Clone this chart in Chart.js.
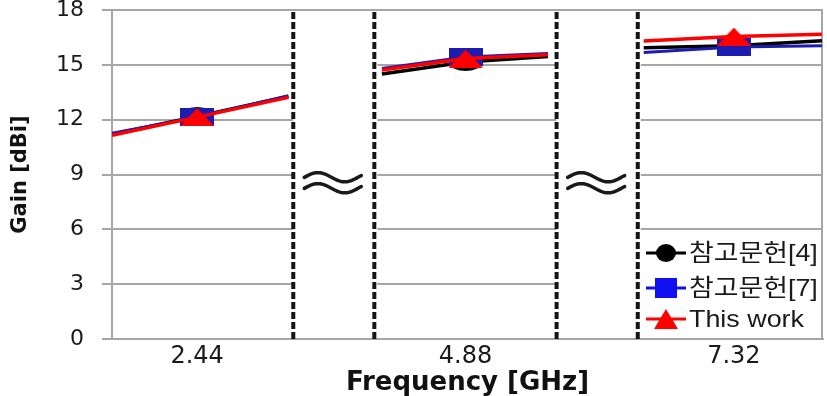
<!DOCTYPE html>
<html><head><meta charset="utf-8">
<script src="https://cdn.jsdelivr.net/npm/chart.js@4.4.0/dist/chart.umd.min.js"></script>
<style>html,body{margin:0;padding:0;background:#fff;overflow:hidden}#wrap{width:827px;height:396px;position:relative}</style>
</head><body><div id="wrap"><canvas id="c" width="827" height="396"></canvas></div>
<script>
// ---- data ----
const seriesNames = ['참고문헌[4]', '참고문헌[7]', 'This work'];
const tickFreqs = [2.44, 4.88, 7.32];          // labelled frequencies (GHz)
const freqRange = [1.666, 8.13];               // visible frequency span of the broken axis
const breakFreqs = [3.314, 4.051, 5.708, 6.446]; // axis-break boundaries
// frequency of each line point (null = break between segments)
const freqs    = [1.666, 2.44, 3.27, null, 4.12, 4.88, 5.63, null, 6.50, 7.32, 8.12];
const ref4     = [11.20, 12.18, 13.27, null, 14.50, 15.15, 15.45, null, 15.93, 16.05, 16.32];
const ref7     = [11.26, 12.14, 13.31, null, 14.80, 15.43, 15.62, null, 15.68, 15.98, 16.04];
const thisWork = [11.15, 12.14, 13.22, null, 14.72, 15.34, 15.55, null, 16.30, 16.55, 16.67];
const yTicks = [0, 3, 6, 9, 12, 15, 18];

const lineColors = ['#000000', '#1c1cb0', '#ff0000'];
const legendColors = ['#000000', '#1010f0', '#ff0000'];

function makeMarker(shape, w, h, color) {
  const c = document.createElement('canvas'); c.width = w; c.height = h;
  const g = c.getContext('2d'); g.fillStyle = color; g.beginPath();
  if (shape === 'ellipse') g.ellipse(w / 2, h / 2, w / 2, h / 2, 0, 0, Math.PI * 2);
  else if (shape === 'rect') g.rect(0, 0, w, h);
  else { g.moveTo(w / 2, 0); g.lineTo(w, h); g.lineTo(0, h); g.closePath(); }
  g.fill(); return c;
}
const chartMarkers = [makeMarker('ellipse', 34, 18, lineColors[0]), makeMarker('rect', 34, 18, lineColors[1]), makeMarker('tri', 34, 18, lineColors[2])];
const legendMarkers = [makeMarker('ellipse', 20, 18, legendColors[0]), makeMarker('rect', 22, 20, legendColors[1]), makeMarker('tri', 24, 20, legendColors[2])];

function build(vals) {
  return freqs.map((f, i) => ({ x: f === null ? (freqs[i - 1] + freqs[i + 1]) / 2 : f, y: vals[i] }));
}
const allSeries = [ref4, ref7, thisWork];
const datasets = allSeries.map((vals, k) => ({
  label: seriesNames[k],
  data: build(vals),
  borderColor: lineColors[k],
  backgroundColor: lineColors[k],
  borderWidth: k === 1 ? 3 : 3.5,
  pointStyle: chartMarkers[k],
  pointRadius: ctx => (ctx.raw && tickFreqs.includes(ctx.raw.x)) ? 9 : 0,
  spanGaps: false,
  tension: 0,
  order: 2 - k
}));

// draws one wavy stroke of the axis-break symbol
function wave(ctx, cx, cy, w, amp) {
  ctx.beginPath();
  for (let i = 0; i <= 40; i++) {
    const t = i / 40;
    const px = cx - w / 2 + w * t;
    const py = cy - amp * Math.sin(2 * Math.PI * (t - 0.005) / 0.94);
    if (i === 0) ctx.moveTo(px, py); else ctx.lineTo(px, py);
  }
  ctx.stroke();
}

const decor = {
  id: 'decor',
  beforeDatasetsDraw(chart) {
    const { ctx, chartArea: a, scales: { x, y } } = chart;
    ctx.save();
    // blank gaps of the broken axis
    ctx.fillStyle = '#ffffff';
    for (let i = 0; i < breakFreqs.length; i += 2) {
      const l = x.getPixelForValue(breakFreqs[i]), r = x.getPixelForValue(breakFreqs[i + 1]);
      ctx.fillRect(l, a.top + 2, r - l + 3, a.bottom - a.top - 3);
    }
    // right border
    ctx.strokeStyle = '#a6a6a6'; ctx.lineWidth = 2;
    ctx.beginPath(); ctx.moveTo(a.right - 1, a.top); ctx.lineTo(a.right - 1, a.bottom); ctx.stroke();
    // dashed break lines
    ctx.strokeStyle = '#151515'; ctx.lineWidth = 4; ctx.setLineDash([7, 3]);
    breakFreqs.forEach(f => {
      const px = x.getPixelForValue(f);
      ctx.beginPath(); ctx.moveTo(px, a.top + 2); ctx.lineTo(px, a.bottom); ctx.stroke();
    });
    ctx.setLineDash([]);
    // break symbols (≈)
    ctx.strokeStyle = '#1a1a1a'; ctx.lineWidth = 3.5; ctx.lineCap = 'round'; ctx.lineJoin = 'round';
    const cy = y.getPixelForValue(8.55);
    for (let i = 0; i < breakFreqs.length; i += 2) {
      const cx = (x.getPixelForValue(breakFreqs[i]) + x.getPixelForValue(breakFreqs[i + 1])) / 2 - 1;
      wave(ctx, cx, cy - 5.5, 57, 4.6);
      wave(ctx, cx, cy + 5.5, 57, 4.6);
    }
    ctx.restore();
  },
  afterDatasetsDraw(chart) {
    const { ctx, chartArea: a } = chart;
    const left = a.right - 182, top = a.bottom - 102;
    ctx.save();
    ctx.fillStyle = '#ffffff';
    ctx.fillRect(left, top, a.right - 2 - left, a.bottom - 1 - top);
    const rows = [a.bottom - 86, a.bottom - 51, a.bottom - 20];
    ctx.font = '24px "Liberation Sans", "Noto Sans CJK KR", sans-serif';
    ctx.textBaseline = 'middle'; ctx.textAlign = 'left';
    chart.data.datasets.forEach((ds, k) => {
      const yy = rows[k];
      ctx.strokeStyle = legendColors[k]; ctx.lineWidth = 3;
      ctx.beginPath(); ctx.moveTo(left + 5, yy); ctx.lineTo(left + 45, yy); ctx.stroke();
      const m = legendMarkers[k];
      ctx.drawImage(m, left + 25 - m.width / 2, yy - m.height / 2);
      ctx.fillStyle = '#1a1a1a';
      ctx.save(); ctx.translate(left + 48, yy + 1); ctx.scale(1.12, 1);
      ctx.fillText(ds.label, 0, 0); ctx.restore();
    });
    ctx.restore();
  }
};

new Chart(document.getElementById('c'), {
  type: 'line',
  data: { datasets },
  plugins: [decor],
  options: {
    responsive: false,
    animation: false,
    layout: { padding: { top: 10, right: 4, left: 0, bottom: 0 } },
    plugins: { legend: { display: false }, tooltip: { enabled: false } },
    scales: {
      x: {
        type: 'linear', min: freqRange[0], max: freqRange[1],
        afterBuildTicks: s => { s.ticks = tickFreqs.map(v => ({ value: v })); },
        afterFit: s => { s.height = 57; s.paddingLeft = 0; s.paddingRight = 0; },
        grid: { display: false, drawTicks: false },
        border: { display: true, color: '#a6a6a6', width: 2 },
        ticks: { font: { family: 'DejaVu Sans', size: 24 }, color: '#1a1a1a', padding: 3, maxRotation: 0, callback: v => Number(v).toFixed(2) },
        title: { display: true, text: 'Frequency [GHz]', font: { family: 'DejaVu Sans', size: 26, weight: 'bold' }, color: '#111', padding: { top: 0, bottom: -3 } }
      },
      y: {
        min: 0, max: 18,
        afterBuildTicks: s => { s.ticks = yTicks.map(v => ({ value: v })); },
        afterFit: s => { s.width = 112; s.paddingTop = 0; s.paddingBottom = 0; },
        grid: { color: '#a6a6a6', lineWidth: 2, tickLength: 10, drawTicks: true },
        border: { display: true, color: '#a6a6a6', width: 2 },
        ticks: { font: { family: 'DejaVu Sans', size: 22 }, color: '#1a1a1a', padding: 18 },
        title: { display: true, text: 'Gain [dBi]', font: { family: 'DejaVu Sans', size: 21, weight: 'bold' }, color: '#111', padding: { top: 8, bottom: 0 } }
      }
    }
  }
});
</script></body></html>
